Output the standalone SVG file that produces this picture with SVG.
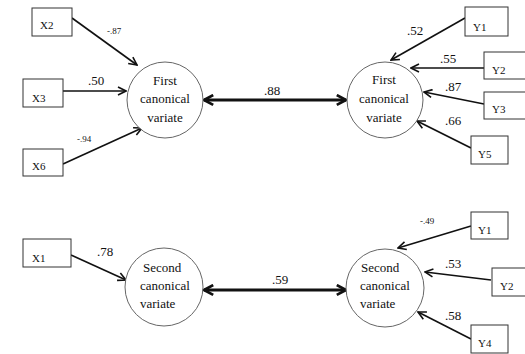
<svg xmlns="http://www.w3.org/2000/svg" width="525" height="354" viewBox="0 0 525 354">
<defs>
<style>
.box{fill:#fff;stroke:#333;stroke-width:1}
.circ{fill:#fff;stroke:#666;stroke-width:1}
.t{font-family:"Liberation Serif","Times New Roman",serif;fill:#111}
.bl{font-size:11px}
.cl{font-size:13px}
.cc{font-size:13px;text-anchor:middle}
.sm{font-size:9px}
.lk{fill:none;stroke:#111;stroke-width:1.6}
.dbl{fill:none;stroke:#111;stroke-width:3}
</style>
<marker id="ah" viewBox="0 0 10 10" refX="9" refY="5" markerWidth="10" markerHeight="10" markerUnits="userSpaceOnUse" orient="auto-start-reverse">
<path d="M1,1 L9,5 L1,9" fill="none" stroke="#111" stroke-width="1.6"/>
</marker>
<marker id="ahb" viewBox="0 0 12 12" refX="10.5" refY="6" markerWidth="13" markerHeight="13" markerUnits="userSpaceOnUse" orient="auto-start-reverse">
<path d="M2,1.5 L10.5,6 L2,10.5" fill="none" stroke="#111" stroke-width="2.6"/>
</marker>
</defs>
<rect width="525" height="354" fill="#fff"/>

<g id="connectors">
<line class="lk" x1="72" y1="18" x2="137" y2="65" marker-end="url(#ah)"/>
<line class="lk" x1="63" y1="91" x2="126" y2="91" marker-end="url(#ah)"/>
<line class="lk" x1="63" y1="164" x2="142" y2="128" marker-end="url(#ah)"/>
<line class="lk" x1="465" y1="18" x2="391" y2="60" marker-end="url(#ah)"/>
<line class="lk" x1="484" y1="68" x2="411" y2="68" marker-end="url(#ah)"/>
<line class="lk" x1="484" y1="104" x2="424" y2="92" marker-end="url(#ah)"/>
<line class="lk" x1="471" y1="148" x2="417" y2="121" marker-end="url(#ah)"/>
<line class="dbl" x1="204" y1="100" x2="346" y2="100" marker-start="url(#ahb)" marker-end="url(#ahb)"/>
<line class="lk" x1="71" y1="255" x2="126" y2="280" marker-end="url(#ah)"/>
<line class="dbl" x1="204" y1="290" x2="346" y2="290" marker-start="url(#ahb)" marker-end="url(#ahb)"/>
<line class="lk" x1="471" y1="226" x2="398" y2="248" marker-end="url(#ah)"/>
<line class="lk" x1="491" y1="280" x2="425" y2="272" marker-end="url(#ah)"/>
<line class="lk" x1="471" y1="339" x2="418" y2="312" marker-end="url(#ah)"/>
<text class="t sm" x="107" y="34">-.87</text>
<text class="t cl" x="88" y="85">.50</text>
<text class="t sm" x="77" y="142">-.94</text>
<text class="t cl" x="407" y="35">.52</text>
<text class="t cl" x="440" y="63">.55</text>
<text class="t cl" x="445" y="91">.87</text>
<text class="t cl" x="445" y="125">.66</text>
<text class="t cl" x="264" y="95">.88</text>
<text class="t cl" x="97" y="256">.78</text>
<text class="t cl" x="272" y="284">.59</text>
<text class="t sm" x="420" y="224">-.49</text>
<text class="t cl" x="445" y="268">.53</text>
<text class="t cl" x="445" y="320">.58</text>
</g>

<g id="X2"><rect class="box" x="32" y="8" width="40" height="28"/><text class="t bl" x="40" y="29">X2</text></g>
<g id="X3"><rect class="box" x="23" y="79" width="40" height="28"/><text class="t bl" x="32" y="102">X3</text></g>
<g id="X6"><rect class="box" x="23" y="149" width="40" height="27"/><text class="t bl" x="32" y="170">X6</text></g>
<g id="X1"><rect class="box" x="23" y="239" width="48" height="28"/><text class="t bl" x="32" y="262">X1</text></g>

<g id="Y1a"><rect class="box" x="465" y="7" width="43" height="29"/><text class="t bl" x="473" y="31">Y1</text></g>
<g id="Y2a"><rect class="box" x="484" y="52" width="43" height="27"/><text class="t bl" x="492" y="74">Y2</text></g>
<g id="Y3"><rect class="box" x="484" y="92" width="43" height="27"/><text class="t bl" x="492" y="113">Y3</text></g>
<g id="Y5"><rect class="box" x="471" y="136" width="37" height="28"/><text class="t bl" x="478" y="158">Y5</text></g>
<g id="Y1b"><rect class="box" x="471" y="212" width="37" height="27"/><text class="t bl" x="478" y="234">Y1</text></g>
<g id="Y2b"><rect class="box" x="492" y="268" width="35" height="28"/><text class="t bl" x="500" y="290">Y2</text></g>
<g id="Y4"><rect class="box" x="471" y="325" width="37" height="28"/><text class="t bl" x="478" y="347">Y4</text></g>

<g id="firstX"><circle class="circ" cx="165" cy="100" r="38"/>
<text class="t cc" x="165" y="85">First</text><text class="t cc" x="165" y="103">canonical</text><text class="t cc" x="165" y="122">variate</text></g>
<g id="firstY"><circle class="circ" cx="385" cy="100" r="38"/>
<text class="t cc" x="384" y="84">First</text><text class="t cc" x="384" y="103">canonical</text><text class="t cc" x="384" y="122">variate</text></g>
<g id="secondX"><circle class="circ" cx="164" cy="287" r="39"/>
<text class="t cl" x="143" y="272">Second</text><text class="t cl" x="140" y="290">canonical</text><text class="t cl" x="140" y="308">variate</text></g>
<g id="secondY"><circle class="circ" cx="385" cy="288" r="39"/>
<text class="t cl" x="361" y="272">Second</text><text class="t cl" x="360" y="290">canonical</text><text class="t cl" x="360" y="308">variate</text></g>
</svg>
